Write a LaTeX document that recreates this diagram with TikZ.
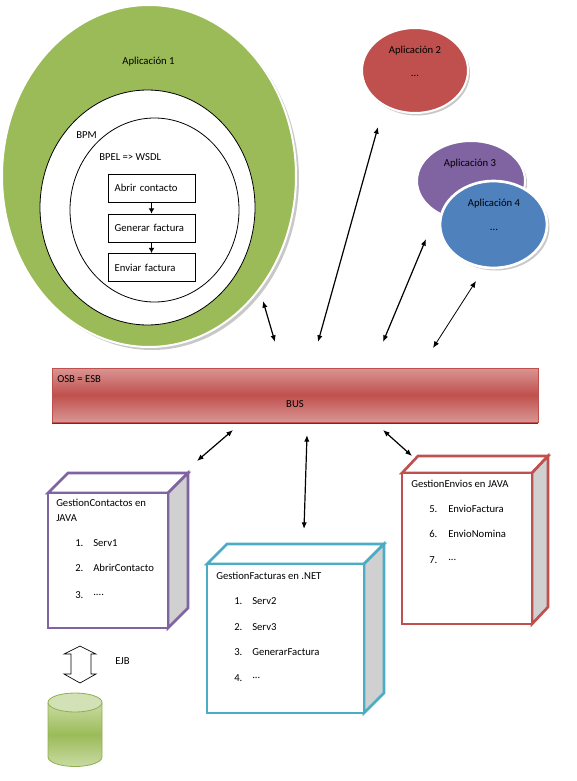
\documentclass[tikz,border=0pt]{standalone}
\usepackage{fontspec}
\setmainfont{Carlito}
\usetikzlibrary{arrows.meta,shapes.geometric}
\definecolor{appgreen}{HTML}{9BBB59}
\definecolor{appred}{HTML}{C0504D}
\definecolor{apppurple}{HTML}{8064A2}
\definecolor{appblue}{HTML}{4F81BD}
\definecolor{appcyan}{HTML}{4BACC6}
\definecolor{buslight}{HTML}{D99694}
\definecolor{sidegray}{HTML}{D0D0D0}
\definecolor{cyllight}{HTML}{C9DBA3}
\definecolor{cyltop}{HTML}{D2E1B6}
\definecolor{cylborder}{HTML}{8FAF4E}
\definecolor{shadowgray}{HTML}{C8C8C8}
\begin{document}
\begin{tikzpicture}[x=0.75pt,y=-0.75pt,
  font=\fontsize{8}{9.6}\selectfont,
  lbl/.style={inner sep=0pt},
  lblw/.style={inner sep=0pt, anchor=west},
  procbox/.style={draw, line width=0.6pt, minimum width=65.25pt, minimum height=21pt,
    text width=55.25pt, inner xsep=5pt, align=left},
  dbl/.style={{Latex[length=5pt,width=4pt]}-{Latex[length=5pt,width=4pt]}, line width=0.9pt},
  dblthin/.style={{Latex[length=5pt,width=4pt]}-{Latex[length=5pt,width=4pt]}, line width=0.6pt},
  flow/.style={-{Latex[length=4pt,width=4.5pt]}, line width=1.4pt},
  cubeline/.style={line width=2pt, line join=miter}
]
\useasboundingbox (0,0) rectangle (576,781);

% ---------- Aplicacion 1 ----------
\fill[shadowgray] (152,179) ellipse [x radius=147, y radius=171];
\filldraw[fill=appgreen, draw=white, line width=1.5pt] (149,176) ellipse [x radius=147, y radius=171];
\filldraw[fill=white, draw=black, line width=0.6pt] (147.5,207.5) ellipse [x radius=107.5, y radius=117.5];
\draw[black, line width=0.6pt] (154.5,210) ellipse [x radius=84.5, y radius=92];
\node[lbl] (app1) at (148.5,62) {Aplicación 1};
\node[lblw] (bpm) at (76,135) {BPM};
\node[lblw] (bpel) at (99,157) {BPEL => WSDL};
\node[procbox] (abrir) at (151.5,188) {Abrir contacto};
\node[procbox] (gen) at (151.5,228) {Generar factura};
\node[procbox] (env) at (151.5,267.5) {Enviar factura};
\draw[flow] (abrir.south) -- (gen.north);
\draw[flow] (gen.south) -- (env.north);

% ---------- Aplicacion 2 ----------
\fill[shadowgray] (417,73) ellipse [x radius=53, y radius=42.5];
\filldraw[fill=appred, draw=white, line width=1.5pt] (415,70.5) ellipse [x radius=53, y radius=42.5];
\node[lbl] (app2) at (415,51) {Aplicación 2};
\node[lbl] (app2d) at (415,76) {...};

% ---------- Aplicacion 3 / 4 ----------
\fill[shadowgray] (473,183) ellipse [x radius=54, y radius=40];
\filldraw[fill=apppurple, draw=white, line width=1.5pt] (471,181) ellipse [x radius=54, y radius=40];
\node[lbl] (app3) at (470,164) {Aplicación 3};
\fill[shadowgray] (496,227) ellipse [x radius=53.5, y radius=43.5];
\filldraw[fill=appblue, draw=white, line width=2pt] (493.5,224.5) ellipse [x radius=53.5, y radius=43.5];
\node[lbl] (app4) at (494,204) {Aplicación 4};
\node[lbl] (app4d) at (494,230) {...};

% ---------- arrows top ----------
\coordinate (a1s) at (263,301); \coordinate (a1e) at (275,342);
\coordinate (a2s) at (378,127); \coordinate (a2e) at (318,342);
\coordinate (a3s) at (426,239); \coordinate (a3e) at (383,342);
\coordinate (a4s) at (476,281); \coordinate (a4e) at (433,348);
\draw[dbl] (a1s) -- (a1e);
\draw[dbl] (a2s) -- (a2e);
\draw[dbl] (a3s) -- (a3e);
\draw[dblthin] (a4s) -- (a4e);

% ---------- BUS ----------
\draw[black!75, line width=1pt] (52,423) -- (538,423);
\shade[top color=buslight, bottom color=buslight, middle color=appred] (52,368) rectangle (538,422);
\draw[appred, line width=0.75pt] (52,368) rectangle (538,422);
\node[lblw] (osb) at (57,379) {OSB = ESB};
\node[lbl] (bus) at (295,404) {BUS};

% ---------- arrows bottom ----------
\coordinate (b1s) at (233,430); \coordinate (b1e) at (197,461);
\coordinate (b2s) at (307,435); \coordinate (b2e) at (304,529);
\coordinate (b3s) at (383,430); \coordinate (b3e) at (412,456);
\draw[dbl] (b1s) -- (b1e);
\draw[dbl] (b2s) -- (b2e);
\draw[dbl] (b3s) -- (b3e);

% ---------- Cube: GestionContactos ----------
\filldraw[cubeline, draw=apppurple, fill=white] (48,493) -- (68,473) -- (188,473) -- (168,493) -- cycle;
\filldraw[cubeline, draw=apppurple, fill=sidegray] (168,493) -- (188,473) -- (188,608) -- (168,628) -- cycle;
\filldraw[cubeline, draw=apppurple, fill=white] (48,493) rectangle (168,628);
\node[lblw] (gc1) at (56,503) {GestionContactos en};
\node[lblw] (gc2) at (56,518) {JAVA};
\node[lblw] (gcn1) at (75,543) {1.};
\node[lblw] (gci1) at (93,543) {Serv1};
\node[lblw] (gcn2) at (75,568) {2.};
\node[lblw] (gci2) at (93,568) {AbrirContacto};
\node[lblw] (gcn3) at (75,595) {3.};
\node[lblw] (gci3) at (93,595) {....};

% ---------- Cube: GestionFacturas ----------
\filldraw[cubeline, draw=appcyan, fill=white] (207,564) -- (227,544) -- (384,544) -- (364,564) -- cycle;
\filldraw[cubeline, draw=appcyan, fill=sidegray] (364,564) -- (384,544) -- (384,693) -- (364,713) -- cycle;
\filldraw[cubeline, draw=appcyan, fill=white] (207,564) rectangle (364,713);
\node[lblw] (gf) at (216,576) {GestionFacturas en .NET};
\node[lblw] (gfn1) at (234,601) {1.};
\node[lblw] (gfi1) at (252,601) {Serv2};
\node[lblw] (gfn2) at (234,627) {2.};
\node[lblw] (gfi2) at (252,627) {Serv3};
\node[lblw] (gfn3) at (234,652) {3.};
\node[lblw] (gfi3) at (252,652) {GenerarFactura};
\node[lblw] (gfn4) at (234,678) {4.};
\node[lblw] (gfi4) at (252,678) {...};

% ---------- Cube: GestionEnvios ----------
\filldraw[cubeline, draw=appred, fill=white] (402,473) -- (418,456) -- (548,456) -- (532,473) -- cycle;
\filldraw[cubeline, draw=appred, fill=sidegray] (532,473) -- (548,456) -- (548,607) -- (532,624) -- cycle;
\filldraw[cubeline, draw=appred, fill=white] (402,473) rectangle (532,624);
\node[lblw] (ge) at (411,484) {GestionEnvios en JAVA};
\node[lblw] (gen5) at (429,509) {5.};
\node[lblw] (gei5) at (448,509) {EnvioFactura};
\node[lblw] (gen6) at (429,534) {6.};
\node[lblw] (gei6) at (448,534) {EnvioNomina};
\node[lblw] (gen7) at (429,560) {7.};
\node[lblw] (gei7) at (448,560) {...};

% ---------- EJB block arrow ----------
\filldraw[fill=white, draw=black, line width=0.5pt]
  (80,646) -- (96,654) -- (91,654) -- (91,674) -- (96,674) -- (80,683)
  -- (64,674) -- (71,674) -- (71,654) -- (64,654) -- cycle;
\node[lblw] (ejb) at (115,661) {EJB};

% ---------- Database cylinder ----------
\shade[top color=cyllight, bottom color=cyllight, middle color=appgreen]
  (48,702.5) -- (48,757) arc [start angle=180, end angle=0, x radius=27, y radius=9.5]
  -- (102,702.5) arc [start angle=0, end angle=180, x radius=27, y radius=9.5] -- cycle;
\draw[cylborder, line width=0.6pt]
  (48,702.5) -- (48,757) arc [start angle=180, end angle=0, x radius=27, y radius=9.5]
  -- (102,702.5);
\filldraw[fill=cyltop, draw=cylborder, line width=0.6pt] (75,702.5) ellipse [x radius=27, y radius=9.5];
\end{tikzpicture}
\end{document}
